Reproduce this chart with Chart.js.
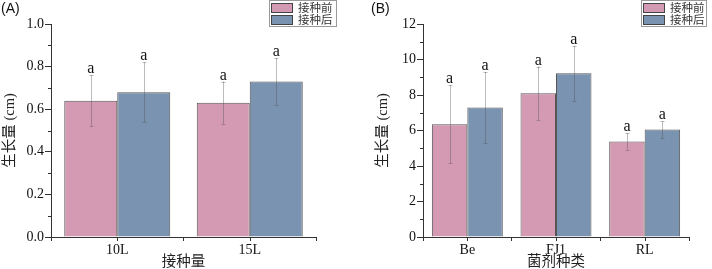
<!DOCTYPE html>
<html><head><meta charset="utf-8">
<script src="https://cdn.jsdelivr.net/npm/chart.js@4/dist/chart.umd.min.js"></script>
<style>
html,body{margin:0;padding:0;background:#fff;}
#wrap{position:relative;width:712px;height:269px;overflow:hidden;}
canvas{position:absolute;top:0;}
</style></head>
<body><div id="wrap"><canvas id="cA" width="356" height="269" style="left:0"></canvas><canvas id="cB" width="356" height="269" style="left:356px"></canvas></div>
<script>
// ---- data ----
const seriesNames = ['接种前', '接种后'];
const categoriesA = ['10L', '15L'];
const beforeA = [0.64, 0.63];
const beforeErrA = [0.12, 0.10];
const afterA = [0.68, 0.73];
const afterErrA = [0.14, 0.11];
const lettersBeforeA = ['a', 'a'];
const lettersAfterA = ['a', 'a'];

const categoriesB = ['Be', 'FJ1', 'RL'];
const beforeB = [6.35, 8.1, 5.38];
const beforeErrB = [2.2, 1.5, 0.47];
const afterB = [7.3, 9.22, 6.05];
const afterErrB = [2.0, 1.55, 0.47];
const lettersBeforeB = ['a', 'a', 'a'];
const lettersAfterB = ['a', 'a', 'a'];

const yTicksA = {min: 0, max: 1.0, step: 0.2, decimals: 1};
const yTicksB = {min: 0, max: 12, step: 2, decimals: 0};

// ---- style ----
const PINK = '#D59AB3';
const BLUE = '#7A93B1';
const SERIF = '"Liberation Serif", "Noto Sans CJK SC", serif';
const AXIS = '#333';

const extras = {
  id: 'extras',
  afterDatasetsDraw(chart, args, o) {
    const ctx = chart.ctx, y = chart.scales.y;
    chart.data.datasets.forEach((ds, i) => {
      const meta = chart.getDatasetMeta(i);
      meta.data.forEach((bar, j) => {
        const v = ds.data[j], e = ds.errors[j];
        const yt = y.getPixelForValue(v + e), yb = y.getPixelForValue(v - e);
        const x = Math.round(bar.x) + 0.5;
        ctx.save();
        ctx.strokeStyle = 'rgba(80,80,80,0.38)';
        ctx.lineWidth = 1;
        ctx.beginPath();
        ctx.moveTo(x, yt); ctx.lineTo(x, yb);
        ctx.moveTo(x - 2, Math.round(yt) + 0.5); ctx.lineTo(x + 2, Math.round(yt) + 0.5);
        ctx.moveTo(x - 2, Math.round(yb) + 0.5); ctx.lineTo(x + 2, Math.round(yb) + 0.5);
        ctx.stroke();
        ctx.fillStyle = '#111';
        ctx.font = '16px ' + SERIF;
        ctx.textAlign = 'center';
        ctx.textBaseline = 'alphabetic';
        ctx.fillText(ds.letters[j], bar.x, yt - 2);
        ctx.restore();
      });
    });
  },
  afterDraw(chart, args, o) {
    const ctx = chart.ctx, y = chart.scales.y, xs = chart.scales.x;
    const x0 = chart.chartArea.left, yb = chart.chartArea.bottom;
    ctx.save();
    ctx.strokeStyle = AXIS; ctx.lineWidth = 1;
    ctx.beginPath();
    // minor y ticks
    const t = o.ticks;
    for (let v = t.min + t.step / 2; v < t.max; v += t.step) {
      const py = Math.round(y.getPixelForValue(v)) + 0.5;
      ctx.moveTo(x0 - 3, py); ctx.lineTo(x0, py);
    }
    // x ticks at category centres
    chart.data.labels.forEach((l, j) => {
      const px = Math.round(xs.getPixelForValue(j)) + 0.5;
      ctx.moveTo(px, yb); ctx.lineTo(px, yb + 4);
    });
    ctx.stroke();
    // panel label
    ctx.fillStyle = '#111';
    ctx.font = '14px "Liberation Sans", sans-serif';
    ctx.textAlign = 'left'; ctx.textBaseline = 'middle';
    ctx.fillText(o.panel, o.panelX, 9);
    // legend
    const L = o.legend;
    ctx.strokeStyle = '#999';
    ctx.strokeRect(L.x + 0.5, 0.5, L.w, 26);
    chart.data.datasets.forEach((ds, i) => {
      const yy = 3 + i * 12;
      ctx.fillStyle = ds.backgroundColor;
      ctx.fillRect(L.x + 2, yy, 22, 10);
      ctx.strokeStyle = '#444';
      ctx.strokeRect(L.x + 2.5, yy + 0.5, 21, 9);
      ctx.fillStyle = '#333';
      ctx.font = '11.5px "Noto Sans CJK SC", sans-serif';
      ctx.textAlign = 'left'; ctx.textBaseline = 'middle';
      ctx.fillText(ds.label, L.x + 29, yy + 5);
    });
    ctx.restore();
  }
};

function makeChart(id, cats, before, beforeErr, after, afterErr, lb, la, tk, xTitle, yAxisW, titlePad, rightPad, panel, panelX, legend) {
  return new Chart(document.getElementById(id), {
    type: 'bar',
    data: {
      labels: cats,
      datasets: [
        {label: seriesNames[0], data: before, errors: beforeErr, letters: lb,
         backgroundColor: PINK, borderColor: '#555', borderWidth: 1,
         categoryPercentage: 0.8, barPercentage: 1.0},
        {label: seriesNames[1], data: after, errors: afterErr, letters: la,
         backgroundColor: BLUE, borderColor: '#555', borderWidth: 1,
         categoryPercentage: 0.8, barPercentage: 1.0}
      ]
    },
    options: {
      responsive: false, animation: false, devicePixelRatio: 1,
      layout: {padding: {left: 0, right: rightPad, top: 24, bottom: 0}},
      plugins: {
        legend: {display: false}, tooltip: {enabled: false},
        extras: {ticks: tk, panel: panel, panelX: panelX, legend: legend}
      },
      scales: {
        x: {
          offset: true,
          grid: {display: true, drawOnChartArea: false, drawTicks: true, tickLength: 4, offset: true, color: AXIS},
          border: {display: true, color: AXIS, width: 1},
          ticks: {color: '#111', font: {family: SERIF, size: 14}, padding: 1, maxRotation: 0},
          title: {display: true, text: xTitle, color: '#222', font: {family: SERIF, size: 14.5, lineHeight: 1.0}, padding: {top: 0, bottom: 0}},
          afterFit: s => { s.height = 32; }
        },
        y: {
          min: tk.min, max: tk.max,
          grid: {display: true, drawOnChartArea: false, drawTicks: true, tickLength: 6, color: AXIS},
          border: {display: true, color: AXIS, width: 1},
          ticks: {stepSize: tk.step, color: '#111', font: {family: SERIF, size: 14}, padding: 1,
                  callback: v => Number(v).toFixed(tk.decimals)},
          title: {display: true, text: '生长量 (cm)', color: '#222', font: {family: SERIF, size: 14.5}, padding: {top: titlePad, bottom: 0}},
          afterFit: s => { s.width = yAxisW; }
        }
      }
    },
    plugins: [extras]
  });
}

makeChart('cA', categoriesA, beforeA, beforeErrA, afterA, afterErrA, lettersBeforeA, lettersAfterA, yTicksA,
  '接种量', 51, 1, 40, '(A)', 1, {x: 269, w: 67});
makeChart('cB', categoriesB, beforeB, beforeErrB, afterB, afterErrB, lettersBeforeB, lettersAfterB, yTicksB,
  '菌剂种类', 67, 18, 23, '(B)', 15, {x: 285, w: 65});
</script>
</body></html>
